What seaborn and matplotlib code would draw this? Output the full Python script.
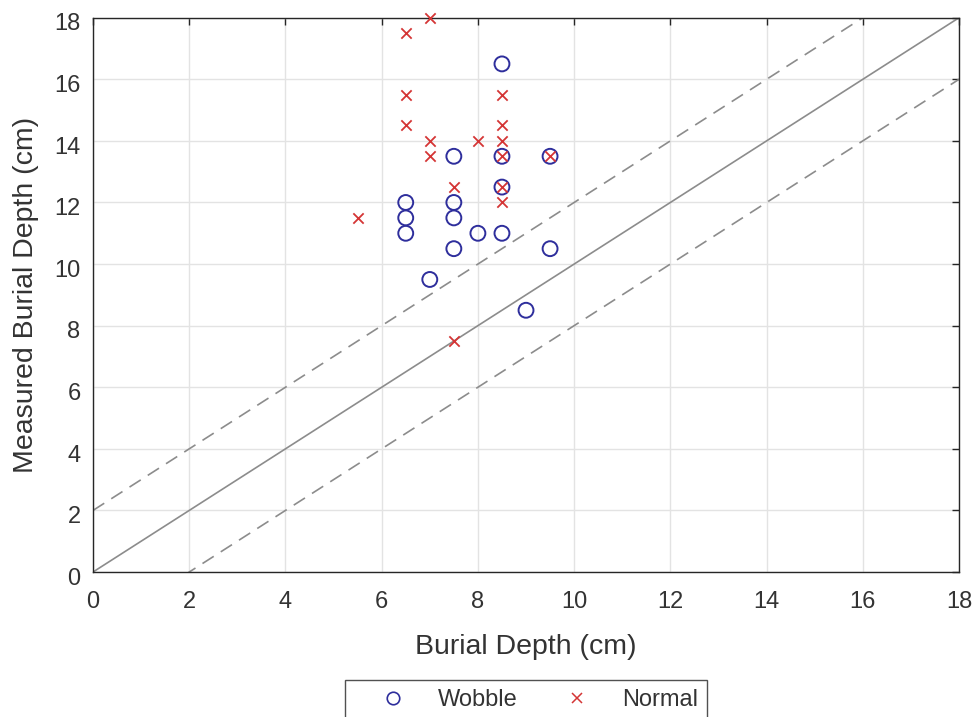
import matplotlib
matplotlib.use("Agg")
import matplotlib.pyplot as plt
from matplotlib.lines import Line2D
from matplotlib.transforms import ScaledTranslation
import numpy as np
import pandas as pd
import seaborn as sns

# Burial depth measurements (cm)
wobble_true = [8.5, 7.5, 8.5, 9.5, 8.5, 6.5, 6.5, 6.5, 7.5, 7.5, 8.0, 8.5, 7.5, 9.5, 7.0, 9.0]
wobble_meas = [16.5, 13.5, 13.5, 13.5, 12.5, 12.0, 11.5, 11.0, 12.0, 11.5, 11.0, 11.0, 10.5, 10.5, 9.5, 8.5]

normal_true = [7.0, 6.5, 6.5, 8.5, 6.5, 8.5, 7.0, 8.0, 8.5, 7.0, 8.5, 9.5, 7.5, 8.5, 8.5, 5.5, 7.5]
normal_meas = [18.0, 17.5, 15.5, 15.5, 14.5, 14.5, 14.0, 14.0, 14.0, 13.5, 13.5, 13.5, 12.5, 12.5, 12.0, 11.5, 7.5]

# 1:1 line and +/- tolerance band
ref_x = [0, 18]
tolerance = 2.0
ticks = list(range(0, 19, 2))

wobble = pd.DataFrame({"true": wobble_true, "meas": wobble_meas})
normal = pd.DataFrame({"true": normal_true, "meas": normal_meas})

sns.set_style("white")
plt.rcParams["font.family"] = ["Liberation Sans", "DejaVu Sans"]

TEXT = "#333333"
BLUE = "#2e2e9c"
RED = "#d43535"
GREY = "#8c8c8c"

fig = plt.figure(figsize=(9.79, 7.17), dpi=100)
ax = fig.add_axes([0.095, 0.2022, 0.8846, 0.7731])

ax.grid(True, color="#e3e3e3", linewidth=1.0, zorder=0)
ax.set_axisbelow(True)

rx = np.array(ref_x, dtype=float)
ax.plot(rx, rx, color=GREY, linewidth=1.2, zorder=1)
ax.plot(rx, rx + tolerance, color=GREY, linewidth=1.2, dashes=(8, 5), zorder=1)
ax.plot(rx, rx - tolerance, color=GREY, linewidth=1.2, dashes=(8, 5), zorder=1)

sns.scatterplot(data=wobble, x="true", y="meas", ax=ax, marker="o", s=115,
                facecolors="none", edgecolor=BLUE, linewidth=1.4, zorder=3,
                clip_on=False)
sns.scatterplot(data=normal, x="true", y="meas", ax=ax, marker="x", s=55,
                color=RED, linewidth=1.3, zorder=4, clip_on=False)

ax.set_xlim(0, 18)
ax.set_ylim(0, 18)
ax.set_xticks(ticks)
ax.set_yticks(ticks)
ax.tick_params(direction="in", length=5, width=1.0, colors="#262626",
               labelcolor=TEXT, labelsize=17, top=True, right=True)
ax.tick_params(axis="x", pad=14)
ax.tick_params(axis="y", pad=9)
# y tick labels sit slightly below their tick marks
shift = ScaledTranslation(0, -3 / 72, fig.dpi_scale_trans)
for lab in ax.get_yticklabels():
    lab.set_transform(lab.get_transform() + shift)
for s in ax.spines.values():
    s.set_visible(True)
    s.set_color("#262626")
    s.set_linewidth(1.0)

ax.set_xlabel("Burial Depth (cm)", fontsize=20.5, color=TEXT, labelpad=15)
ax.set_ylabel("Measured Burial Depth (cm)", fontsize=20.5, color=TEXT, labelpad=11)

handles = [
    Line2D([], [], marker="o", linestyle="none", markerfacecolor="none",
           markeredgecolor=BLUE, markersize=9, markeredgewidth=1.2),
    Line2D([], [], marker="x", linestyle="none", color=RED,
           markersize=7, markeredgewidth=1.1),
]
leg = fig.legend(handles, ["Wobble", "Normal"], loc="upper center",
                 bbox_to_anchor=(0.5373, 0.0516), borderaxespad=0, ncol=2,
                 frameon=True, fancybox=False, edgecolor="#262626", fontsize=17,
                 handletextpad=0.27, columnspacing=0.9, borderpad=0.4,
                 handlelength=3.26)
leg.get_frame().set_linewidth(1.0)
for t in leg.get_texts():
    t.set_color(TEXT)

fig.savefig("out.png", dpi=100)
